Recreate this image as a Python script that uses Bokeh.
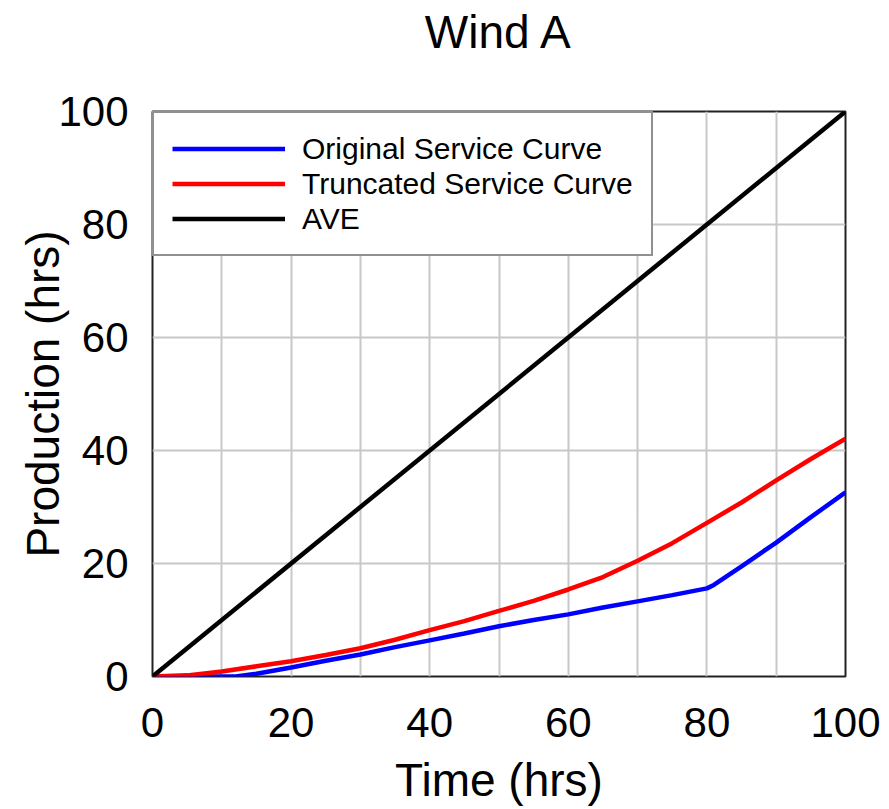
from bokeh.plotting import figure
from bokeh.models import Legend, LegendItem, SingleIntervalTicker, FixedTicker, Range1d
from bokeh.embed import file_html
from bokeh.resources import INLINE

# Data
time_orig = [0, 5, 10, 12, 15, 20, 25, 30, 35, 40, 45, 50, 55, 60, 65, 70, 75, 80, 81, 85, 90, 95, 100]
prod_orig = [0, 0, 0, 0, 0.5, 1.6, 2.8, 3.9, 5.2, 6.4, 7.6, 8.9, 10.0, 11.0, 12.2, 13.3, 14.4, 15.6, 16.2, 19.5, 23.7, 28.2, 32.6]

time_trunc = [0, 5, 10, 15, 20, 25, 30, 35, 40, 45, 50, 55, 60, 65, 70, 75, 80, 85, 90, 95, 100]
prod_trunc = [0, 0.2, 0.9, 1.8, 2.7, 3.8, 5.0, 6.5, 8.2, 9.8, 11.6, 13.4, 15.4, 17.6, 20.5, 23.6, 27.2, 30.8, 34.7, 38.5, 42.1]

time_ave = [0, 100]
prod_ave = [0, 100]

x_ticks = [0, 20, 40, 60, 80, 100]
y_ticks = [0, 20, 40, 60, 80, 100]

labels = ["Original Service Curve", "Truncated Service Curve", "AVE"]
colors = ["#0000ff", "#ff0000", "#000000"]
title_text = "Wind A"

FONT = "Liberation Sans"

p = figure(width=889, height=809, output_backend="svg", toolbar_location=None,
           x_range=Range1d(0, 100), y_range=Range1d(0, 100),
           min_border_left=152, min_border_right=44, min_border_top=111, min_border_bottom=133,
           title=title_text + "\n")

p.title.text_font = FONT
p.title.text_font_size = "46px"
p.title.text_font_style = "normal"
p.title.text_color = "#000000"
p.title.align = "center"
p.title.vertical_align = "top"
p.title.standoff = 0

p.outline_line_color = "#222222"
p.outline_line_width = 2

# grids
p.xgrid.ticker = SingleIntervalTicker(interval=10)
p.ygrid.ticker = FixedTicker(ticks=y_ticks)
for g in (p.xgrid, p.ygrid):
    g.grid_line_color = "#c8c8c8"
    g.grid_line_width = 2

# axes
p.xaxis.ticker = FixedTicker(ticks=x_ticks)
p.yaxis.ticker = FixedTicker(ticks=y_ticks)
for ax in (p.xaxis, p.yaxis):
    ax.axis_line_color = None
    ax.major_tick_line_color = None
    ax.minor_tick_line_color = None
    ax.major_tick_out = 0
    ax.major_tick_in = 0
    ax.major_label_text_font = FONT
    ax.major_label_text_font_size = "42px"
    ax.major_label_text_color = "#000000"
    ax.axis_label_text_font = FONT
    ax.axis_label_text_font_size = "46px"
    ax.axis_label_text_font_style = "normal"
    ax.axis_label_text_color = "#000000"

p.xaxis.axis_label = "Time (hrs)"
p.yaxis.axis_label = "Production (hrs)"
p.xaxis.major_label_standoff = 31
p.xaxis.axis_label_standoff = 14
p.yaxis.major_label_standoff = 24
p.yaxis.axis_label_standoff = -14

r1 = p.line(time_orig, prod_orig, line_color=colors[0], line_width=4.5)
r2 = p.line(time_trunc, prod_trunc, line_color=colors[1], line_width=4.5)
r3 = p.line(time_ave, prod_ave, line_color=colors[2], line_width=4.5)

legend = Legend(items=[LegendItem(label=labels[0], renderers=[r1]),
                       LegendItem(label=labels[1], renderers=[r2]),
                       LegendItem(label=labels[2], renderers=[r3])],
                location="top_left")
legend.margin = 0
legend.padding = 18
legend.spacing = 0
legend.glyph_width = 113
legend.glyph_height = 35
legend.label_height = 35
legend.label_standoff = 17
legend.label_text_font = FONT
legend.label_text_font_size = "30px"
legend.label_text_color = "#000000"
legend.border_line_color = "#222222"
legend.border_line_width = 2
legend.background_fill_color = "white"
legend.background_fill_alpha = 1.0
p.add_layout(legend, "center")

open("out.html", "w").write(file_html(p, INLINE))
